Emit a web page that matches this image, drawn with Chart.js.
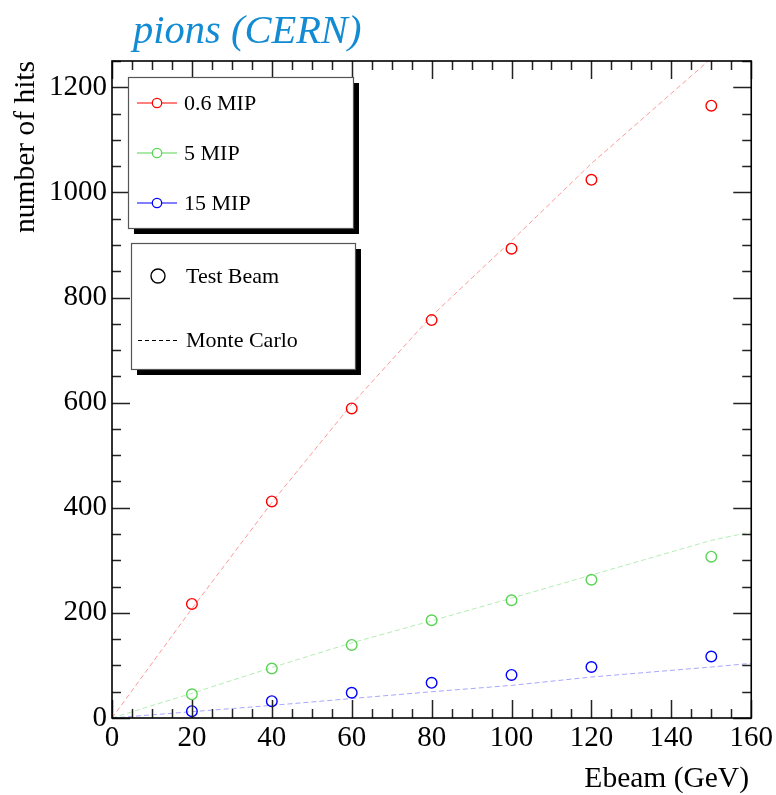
<!DOCTYPE html>
<html>
<head>
<meta charset="utf-8">
<title>pions (CERN)</title>
<script src="https://cdn.jsdelivr.net/npm/chart.js@4/dist/chart.umd.min.js"></script>
<style>
  html, body { margin: 0; padding: 0; background: #fff; }
  canvas { display: block; }
</style>
</head>
<body>
<canvas id="c" width="776" height="795"></canvas>
<script>
// Beam energies of the test-beam runs (GeV)
const beamEnergies = [20, 40, 60, 80, 100, 120, 150];
// Test beam: number of hits per threshold
const tbMip06 = [217, 412, 589, 757, 893, 1024, 1165];
const tbMip5  = [45, 94, 139, 186, 224, 263, 307];
const tbMip15 = [13, 32, 48, 67, 82, 97, 117];

// Monte Carlo prediction
const mcEnergies = [0, 20, 40, 60, 80, 100, 120, 150, 160];
const mcMip06 = [0, 208, 410, 597, 765, 908, 1055, 1255, 1320];
const mcMip5  = [0, 47, 96, 143, 185, 228, 272, 338, 354];
const mcMip15 = [0, 12, 24, 37, 50, 62, 78, 97, 104];

// Axis tick labels
const xTicks = [0, 20, 40, 60, 80, 100, 120, 140, 160];
const yTicks = [0, 200, 400, 600, 800, 1000, 1200];

const seriesLabels = ['0.6 MIP', '5 MIP', '15 MIP'];
const SERIF = '"Liberation Serif", "DejaVu Serif", serif';
const RED = 'rgb(255,0,0)', GREEN = 'rgb(89,212,84)', BLUE = 'rgb(0,0,255)';
const colors = [RED, GREEN, BLUE];
const mcColors = ['rgba(255,0,0,0.4)', 'rgba(89,212,84,0.45)', 'rgba(0,0,255,0.35)'];

const pts = (xs, ys) => xs.map((x, i) => ({ x: x, y: ys[i] }));

const tbSets = [tbMip06, tbMip5, tbMip15].map((ys, i) => ({
  label: seriesLabels[i] + ' test beam',
  data: pts(beamEnergies, ys),
  showLine: false,
  pointStyle: 'circle',
  pointRadius: 5.3,
  pointBorderWidth: 1.4,
  pointBorderColor: colors[i],
  pointBackgroundColor: 'rgba(0,0,0,0)',
  order: 0
}));
const mcSets = [mcMip06, mcMip5, mcMip15].map((ys, i) => ({
  label: seriesLabels[i] + ' Monte Carlo',
  data: pts(mcEnergies, ys),
  showLine: true,
  borderColor: mcColors[i],
  borderWidth: 1,
  borderDash: [5, 3],
  pointRadius: 0,
  order: 1
}));

// Frame, inward ticks on all four sides, legends and titles
const decorations = {
  id: 'decorations',
  afterDraw(chart) {
    const ctx = chart.ctx;
    const a = chart.chartArea;
    const xs = chart.scales.x, ys = chart.scales.y;
    ctx.save();

    // ticks
    ctx.strokeStyle = '#222';
    ctx.lineWidth = 1.5;
    ctx.beginPath();
    for (let v = 0; v <= 160; v += 5) {
      const px = Math.round(xs.getPixelForValue(v)) + 0.5;
      const len = (v % 20 === 0) ? 18 : 9;
      ctx.moveTo(px, a.bottom); ctx.lineTo(px, a.bottom - len);
      ctx.moveTo(px, a.top); ctx.lineTo(px, a.top + len);
    }
    for (let v = 0; v <= 1250; v += 50) {
      const py = Math.round(ys.getPixelForValue(v)) + 0.5;
      const len = (v % 200 === 0) ? 18 : 9;
      ctx.moveTo(a.left, py); ctx.lineTo(a.left + len, py);
      ctx.moveTo(a.right, py); ctx.lineTo(a.right - len, py);
    }
    ctx.stroke();

    // frame
    ctx.strokeStyle = '#000';
    ctx.lineWidth = 1.6;
    ctx.strokeRect(a.left, a.top, a.right - a.left, a.bottom - a.top);

    // legend boxes with drop shadows
    function box(x0, y0, x1, y1, sx, sy) {
      ctx.fillStyle = '#000';
      ctx.fillRect(x0 + sx, y0 + sy, x1 - x0, y1 - y0);
      ctx.fillStyle = '#fff';
      ctx.fillRect(x0, y0, x1 - x0, y1 - y0);
      ctx.strokeStyle = '#555';
      ctx.lineWidth = 1.2;
      ctx.strokeRect(x0 + 0.5, y0 + 0.5, x1 - x0, y1 - y0);
    }
    box(128, 77, 353, 228, 6, 6);
    box(131, 243, 355, 369, 6, 6);

    ctx.font = '22px ' + SERIF;
    ctx.textBaseline = 'middle';
    ctx.textAlign = 'left';
    const rows = [103, 153, 203];
    rows.forEach((ry, i) => {
      ctx.strokeStyle = colors[i];
      ctx.lineWidth = 1.2;
      ctx.beginPath();
      ctx.moveTo(137, ry); ctx.lineTo(177, ry);
      ctx.stroke();
      ctx.fillStyle = '#fff';
      ctx.beginPath();
      ctx.arc(157, ry, 4.7, 0, Math.PI * 2);
      ctx.fill();
      ctx.lineWidth = 1.3;
      ctx.stroke();
      ctx.fillStyle = '#000';
      ctx.fillText(seriesLabels[i], 184, ry + 1);
    });

    ctx.strokeStyle = '#000';
    ctx.lineWidth = 1.4;
    ctx.beginPath();
    ctx.arc(158, 276, 7, 0, Math.PI * 2);
    ctx.stroke();
    ctx.fillStyle = '#000';
    ctx.fillText('Test Beam', 186, 277);

    ctx.lineWidth = 1;
    ctx.setLineDash([4, 3]);
    ctx.beginPath();
    ctx.moveTo(138, 340.5); ctx.lineTo(179, 340.5);
    ctx.stroke();
    ctx.setLineDash([]);
    ctx.fillText('Monte Carlo', 186, 341);

    // axis titles
    ctx.font = '29.5px ' + SERIF;
    ctx.textBaseline = 'alphabetic';
    ctx.textAlign = 'right';
    ctx.fillText('Ebeam (GeV)', 749, 787);

    ctx.save();
    ctx.translate(34, 61);
    ctx.rotate(-Math.PI / 2);
    ctx.textAlign = 'right';
    ctx.fillText('number of hits', 0, 0);
    ctx.restore();

    // plot title
    ctx.font = 'italic 40.5px ' + SERIF;
    ctx.fillStyle = '#128bd2';
    ctx.textAlign = 'left';
    ctx.fillText('pions (CERN)', 133, 43);

    ctx.restore();
  }
};

new Chart(document.getElementById('c'), {
  type: 'scatter',
  data: { datasets: tbSets.concat(mcSets) },
  options: {
    responsive: false,
    animation: false,
    devicePixelRatio: 1,
    events: [],
    layout: { padding: { top: 61, right: 24, left: 0, bottom: 0 } },
    plugins: {
      legend: { display: false },
      tooltip: { enabled: false },
      title: { display: false }
    },
    scales: {
      x: {
        type: 'linear',
        min: 0, max: 160,
        afterFit(s) { s.height = 77; },
        afterBuildTicks(s) { s.ticks = xTicks.map(v => ({ value: v })); },
        grid: { display: false, drawTicks: false },
        border: { display: false },
        ticks: {
          color: '#000',
          font: { family: SERIF, size: 29 },
          padding: 3,
          maxRotation: 0,
          autoSkip: false,
          callback: v => String(v)
        }
      },
      y: {
        type: 'linear',
        min: 0, max: 1250,
        afterFit(s) { s.width = 112; },
        afterBuildTicks(s) { s.ticks = yTicks.map(v => ({ value: v })); },
        grid: { display: false, drawTicks: false },
        border: { display: false },
        ticks: {
          color: '#000',
          font: { family: SERIF, size: 29 },
          padding: 5,
          autoSkip: false,
          callback: v => String(v)
        }
      }
    }
  },
  plugins: [decorations]
});
</script>
</body>
</html>
